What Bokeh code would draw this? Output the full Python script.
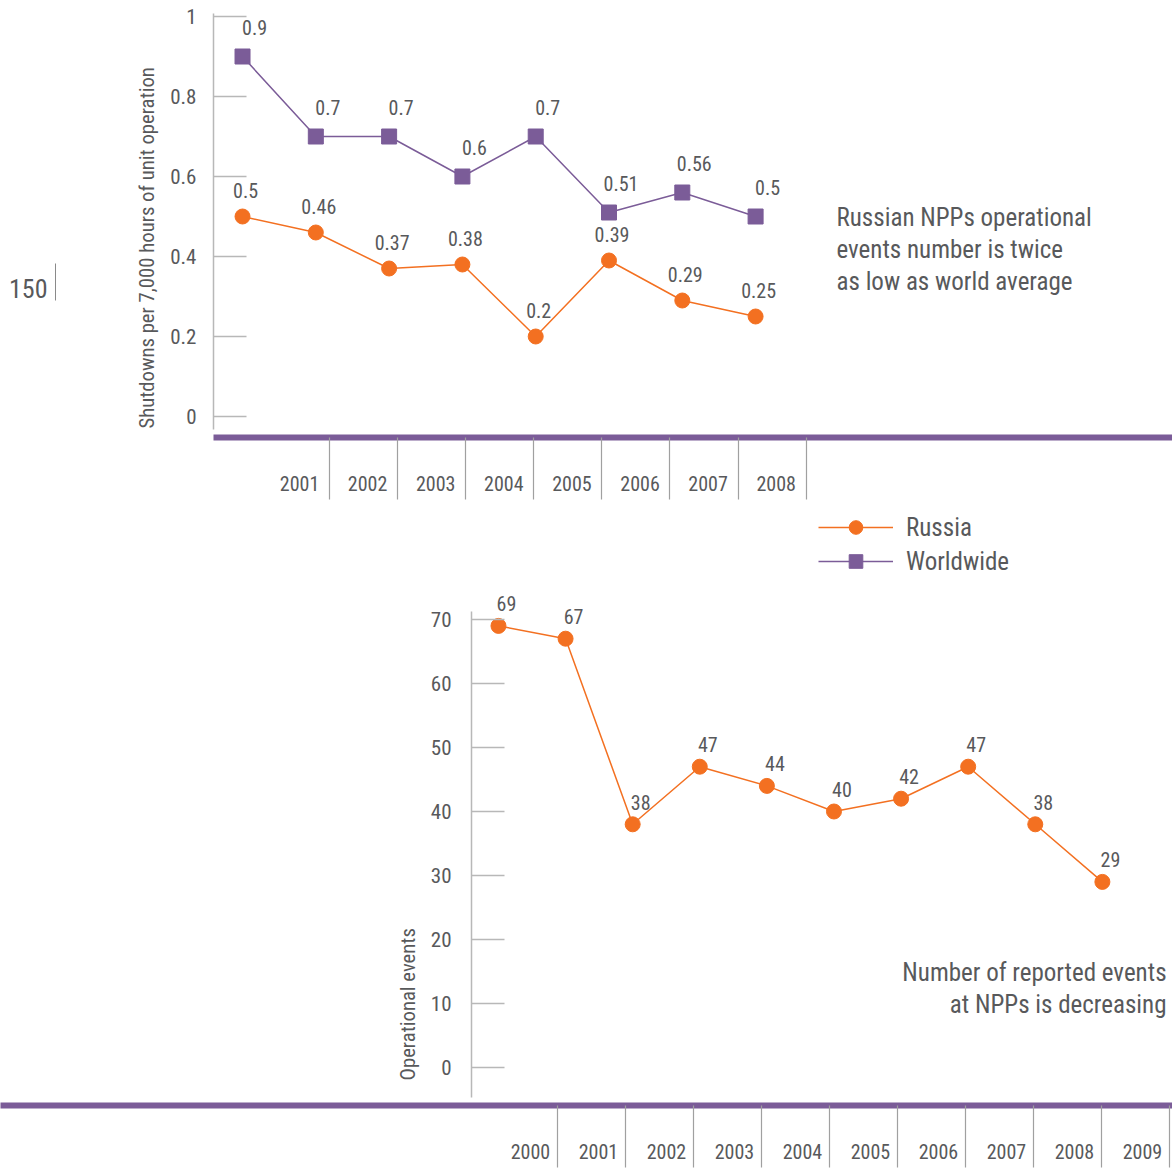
from bokeh.plotting import figure
from bokeh.layouts import column, row
from bokeh.models import Range1d, LinearAxis, FixedTicker, Legend, LegendItem, ColumnDataSource, Title
from bokeh.core.properties import value
from bokeh.embed import file_html
from bokeh.resources import INLINE

# ---------------------------------------------------------------- data
top_years = [2001, 2002, 2003, 2004, 2005, 2006, 2007, 2008]
russia_shutdowns = [0.5, 0.46, 0.37, 0.38, 0.2, 0.39, 0.29, 0.25]
world_shutdowns = [0.9, 0.7, 0.7, 0.6, 0.7, 0.51, 0.56, 0.5]
shutdown_ticks = [0, 0.2, 0.4, 0.6, 0.8, 1]

event_years = [2000, 2001, 2002, 2003, 2004, 2005, 2006, 2007, 2008, 2009]
russia_events = [69, 67, 38, 47, 44, 40, 42, 47, 38, 29]
event_ticks = [0, 10, 20, 30, 40, 50, 60, 70]

# ---------------------------------------------------------------- style
FONT = "Roboto Condensed, Liberation Sans Narrow, DejaVu Sans Condensed, sans-serif"
TEXT = "#58595b"
ORANGE = "#f37021"
PURPLE = "#7b5c98"
RULE = "#b8b8b8"
SEP = "#a0a0a0"
NAN = float("nan")


def make_fig(**kw):
    p = figure(output_backend="svg", toolbar_location=None, **kw)
    if "frame_align" in p.properties():
        p.frame_align = False
    p.grid.visible = False
    p.outline_line_color = None
    p.background_fill_color = "white"
    p.border_fill_color = "white"
    return p


def style_value_axis(ax, ticks, bounds, standoff):
    ax.ticker = FixedTicker(ticks=ticks)
    ax.bounds = bounds
    ax.axis_line_color = RULE
    ax.axis_line_width = 1.5
    ax.major_tick_in = 33
    ax.major_tick_out = 0
    ax.major_tick_line_color = RULE
    ax.major_tick_line_width = 1.5
    ax.minor_tick_line_color = None
    ax.major_label_standoff = standoff
    ax.major_label_overrides = {t: f"{t:g}" for t in ticks}
    ax.major_label_text_font = FONT
    ax.major_label_text_font_size = "21px"
    ax.major_label_text_color = TEXT


def add_axis_title(p, text, offset, standoff):
    # vertical title beside the value axis, starting near the bottom of the frame
    p.add_layout(Title(text=text, align="left", offset=offset, standoff=standoff,
                       text_font=FONT, text_font_size="20.7px", text_font_style="normal",
                       text_color=TEXT), "left")


def style_year_axis(ax, years, edge):
    # year names sit at the cell centres, thin rules mark the cell edges
    ax.ticker = FixedTicker(ticks=years, minor_ticks=[y + edge for y in years])
    ax.major_label_overrides = {y: str(y) for y in years}
    ax.axis_line_color = PURPLE
    ax.axis_line_width = 6
    ax.major_tick_line_color = None
    ax.major_tick_in = 0
    ax.major_tick_out = 0
    ax.minor_tick_line_color = SEP
    ax.minor_tick_line_width = 1.2
    ax.minor_tick_in = 0
    ax.minor_tick_out = 62
    ax.major_label_standoff = -24
    ax.major_label_text_font = FONT
    ax.major_label_text_font_size = "20px"
    ax.major_label_text_color = TEXT


def value_labels(p, src, xcol, ycol, tcol, dx, dy):
    p.text(xcol, ycol, text=tcol, source=src, x_offset=dx, y_offset=dy,
           text_align="center", text_baseline="middle",
           text_font=value(FONT), text_font_size="20px", text_color=TEXT)


# ---------------------------------------------------------------- page number
page = make_fig(width=70, height=505, x_range=Range1d(0, 70), y_range=Range1d(505, 0),
                x_axis_location=None, y_axis_location=None, min_border=0)
page.text(x=[47], y=[288], text=["150"], text_align="right", text_baseline="middle",
          text_font=value(FONT), text_font_size="26px", text_color=TEXT)
page.segment(x0=[55], y0=[263], x1=[55], y1=[300], line_color="#8a8a8a", line_width=1)

# ---------------------------------------------------------------- shutdowns chart
top = make_fig(width=1102, height=505,
               x_range=Range1d(2000.604, 2013.688), y_range=Range1d(-0.0525, 1.0075),
               x_axis_location=None, y_axis_location="left",
               min_border_left=143, min_border_right=0, min_border_top=13, min_border_bottom=68)
style_value_axis(top.yaxis[0], shutdown_ticks, (-0.0325, 1.0075), 17)
add_axis_title(top, "Shutdowns per 7,000 hours of unit operation", 9, 17)

top.extra_x_ranges = {"cells": Range1d(1999.737, 2013.819)}
top_cells = LinearAxis(x_range_name="cells")
style_year_axis(top_cells, top_years, 0.44)
top.add_layout(top_cells, "below")

src_top = ColumnDataSource(dict(
    year=top_years,
    russia=russia_shutdowns,
    world=world_shutdowns,
    russia_lbl=[f"{v:g}" for v in russia_shutdowns],
    world_lbl=[f"{v:g}" for v in world_shutdowns],
))
top.line("year", "world", source=src_top, line_color=PURPLE, line_width=1.5)
top.scatter("year", "world", source=src_top, marker="square", size=15,
            fill_color=PURPLE, line_color=PURPLE)
top.line("year", "russia", source=src_top, line_color=ORANGE, line_width=1.5)
top.scatter("year", "russia", source=src_top, marker="circle", size=15,
            fill_color=ORANGE, line_color=ORANGE)
value_labels(top, src_top, "year", "world", "world_lbl", 12, -29)
value_labels(top, src_top, "year", "russia", "russia_lbl", 3, -26)

top.text(x=[2009.104], y=[0.4175],
         text=["Russian NPPs operational\nevents number is twice\nas low as world average"],
         text_align="left", text_baseline="middle", text_line_height=1.09,
         text_font=value(FONT), text_font_size="25px", text_color=TEXT)

# ---------------------------------------------------------------- events chart
bottom = make_fig(width=1172, height=594,
                  x_range=Range1d(1999.598, 2010.045), y_range=Range1d(-5.0, 87.8125),
                  x_axis_location=None, y_axis_location="left",
                  min_border_left=471, min_border_right=0, min_border_top=0, min_border_bottom=0)
style_value_axis(bottom.yaxis[0], event_ticks, (-4.69, 71.25), 20)
add_axis_title(bottom, "Operational events", 19, 16)

src_ev = ColumnDataSource(dict(
    year=event_years,
    events=russia_events,
    lbl=[str(v) for v in russia_events],
))
ru_line = bottom.line("year", "events", source=src_ev, line_color=ORANGE, line_width=1.5)
ru_pts = bottom.scatter("year", "events", source=src_ev, marker="circle", size=15,
                        fill_color=ORANGE, line_color=ORANGE)
value_labels(bottom, src_ev, "year", "events", "lbl", 8, -22)

bottom.text(x=[2009.956], y=[12.34],
            text=["Number of reported events\nat NPPs is decreasing"],
            text_align="right", text_baseline="middle", text_line_height=1.09,
            text_font=value(FONT), text_font_size="25px", text_color=TEXT)

# legend keys for both series of the shutdowns chart
ww_line = bottom.line(x=[NAN], y=[NAN], line_color=PURPLE, line_width=1.5)
ww_pts = bottom.scatter(x=[NAN], y=[NAN], marker="square", size=15,
                        fill_color=PURPLE, line_color=PURPLE)
legend = Legend(items=[LegendItem(label="Russia", renderers=[ru_line, ru_pts]),
                       LegendItem(label="Worldwide", renderers=[ww_line, ww_pts])],
                location=(347, 521), orientation="vertical",
                glyph_width=75, glyph_height=34, label_height=24, label_standoff=13,
                spacing=-4, padding=0, margin=0,
                border_line_color=None, background_fill_alpha=0,
                label_text_font=FONT, label_text_font_size="25px", label_text_color=TEXT)
bottom.add_layout(legend)

# ---------------------------------------------------------------- year strip under events chart
strip = make_fig(width=1172, height=69,
                 x_range=Range1d(1992.206, 2009.441), y_range=Range1d(0, 1),
                 x_axis_location="below", y_axis_location=None,
                 min_border_left=0, min_border_right=0, min_border_top=0, min_border_bottom=63)
style_year_axis(strip.xaxis[0], event_years, 0.39)

layout = column(row(page, top), bottom, strip)
open("out.html", "w").write(file_html(layout, INLINE))
